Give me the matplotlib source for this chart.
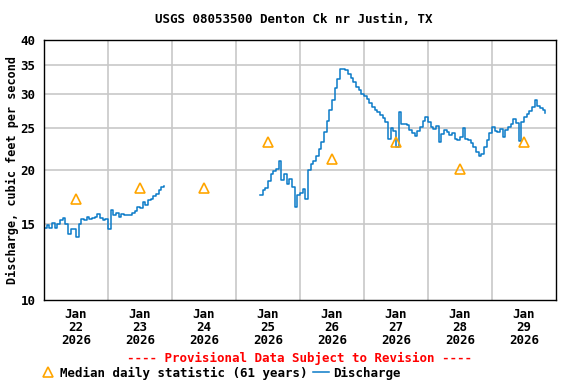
import pandas as pd
import matplotlib.pyplot as plt
from matplotlib.lines import Line2D
from matplotlib.ticker import FixedLocator, NullLocator

plt.rcParams['font.family'] = 'DejaVu Sans Mono'
plt.rcParams['font.weight'] = 'bold'

# discharge, hourly readings, first piece starts Jan 22 00:00
start1 = '2026-01-22 00:00'
q1 = [14.7, 14.9, 14.7, 15.1, 14.7, 15.0, 15.3, 15.5, 15.0, 14.2,
      14.6, 14.6, 14.0, 15.0, 15.4, 15.3, 15.6, 15.4, 15.5, 15.6,
      15.8, 15.5, 15.3, 15.4, 14.6, 16.2, 15.7, 15.9, 15.6, 15.8,
      15.7, 15.7, 15.7, 15.9, 16.1, 16.4, 16.3, 16.9, 16.6, 17.0,
      17.1, 17.4, 17.6, 18.0, 18.3, 18.4]

# second piece starts Jan 25 09:00
start2 = '2026-01-25 09:00'
q2 = [17.5, 18.0, 18.2, 18.9, 19.6, 19.9, 20.1, 21.0, 19.0, 19.6,
      18.6, 19.1, 18.3, 16.4, 17.5, 17.7, 18.1, 17.1, 20.0, 20.6,
      21.0, 21.6, 22.4, 23.2, 24.5, 26.0, 27.5, 29.0, 31.0, 32.5,
      34.3, 34.3, 34.0, 33.3, 32.6, 32.0, 31.2, 30.6, 30.0, 29.6,
      29.2, 28.6, 28.0, 27.6, 27.2, 26.8, 26.4, 25.8, 23.6, 25.0,
      24.6, 22.6, 27.2, 25.5, 25.5, 25.4, 24.7, 24.3, 24.0, 24.6,
      25.2, 26.0, 26.6, 25.8, 25.2, 24.9, 25.3, 23.2, 24.2, 24.8,
      24.5, 24.1, 24.3, 23.6, 23.5, 23.8, 25.0, 23.6, 23.5, 23.1,
      22.6, 22.0, 21.5, 21.8, 22.6, 23.5, 24.4, 25.2, 24.6, 24.5,
      24.9, 23.8, 24.7, 25.1, 25.5, 26.2, 25.7, 23.4, 25.9, 26.6,
      27.0, 27.4, 28.0, 29.0, 28.2, 27.9, 27.6, 27.1]

# median daily statistic at noon of each day
days = ['2026-01-22', '2026-01-23', '2026-01-24', '2026-01-25',
        '2026-01-26', '2026-01-27', '2026-01-28', '2026-01-29']
medianas = [17.1, 18.2, 18.2, 23.2, 21.2, 23.2, 20.1, 23.2]

yticks = [10, 15, 20, 25, 30, 35, 40]

t1 = pd.date_range(start1, periods=len(q1), freq='h')
t2 = pd.date_range(start2, periods=len(q2), freq='h')
mediodia = pd.to_datetime(days) + pd.Timedelta(hours=12)

fig = plt.figure(figsize=(5.76, 3.84), dpi=100)
ax = fig.add_axes([44/576, 84/384, 512/576, 260/384])

azul = '#0a7ac8'
ax.plot(t1, q1, drawstyle='steps-post', color=azul, lw=1.1)
ax.plot(t2, q2, drawstyle='steps-post', color=azul, lw=1.1)
ax.plot(mediodia, medianas, ls='none', marker='^', ms=7, mfc='none',
        mec='#ffa500', mew=1.2)

ax.set_yscale('log')
ax.set_ylim(10, 40)
ax.yaxis.set_major_locator(FixedLocator(yticks))
ax.yaxis.set_minor_locator(NullLocator())
ax.set_yticklabels([str(v) for v in yticks])
ax.set_xlim(pd.Timestamp('2026-01-22'), pd.Timestamp('2026-01-30'))

# grid at midnight, labels at noon
medianoches = pd.date_range('2026-01-23', periods=7, freq='D')
for m in medianoches:
    ax.axvline(m, color='#c8c8c8', lw=1.2, zorder=0)
for v in yticks[1:-1]:
    ax.axhline(v, color='#c8c8c8', lw=1.2, zorder=0)
ax.set_xticks(mediodia)
ax.set_xticklabels(['Jan\n%d\n2026' % d.day for d in mediodia], linespacing=1.0)
ax.tick_params(length=0, labelsize=9, pad=6)
ax.tick_params(axis='y', pad=6)
for s in ax.spines.values():
    s.set_linewidth(1.0)

fig.text(12/576, 214/384, 'Discharge, cubic feet per second', rotation=90,
         ha='center', va='center', fontsize=8.5)
fig.text(0.51, 0.95, 'USGS 08053500 Denton Ck nr Justin, TX', ha='center',
         va='center', fontsize=9)
fig.text(0.52, 0.067, '---- Provisional Data Subject to Revision ----',
         ha='center', va='center', fontsize=9, color='red')

h1 = Line2D([], [], ls='none', marker='^', ms=7, mfc='none', mec='#ffa500', mew=1.2)
h2 = Line2D([], [], color=azul, lw=1.1)
fig.legend([h1, h2], ['Median daily statistic (61 years)', 'Discharge'],
           loc='center left', bbox_to_anchor=(0.07, 0.028), ncol=2,
           frameon=False, fontsize=9, handlelength=1.3, handletextpad=0.3,
           columnspacing=0.4, borderpad=0, borderaxespad=0)

plt.savefig('out.png')
